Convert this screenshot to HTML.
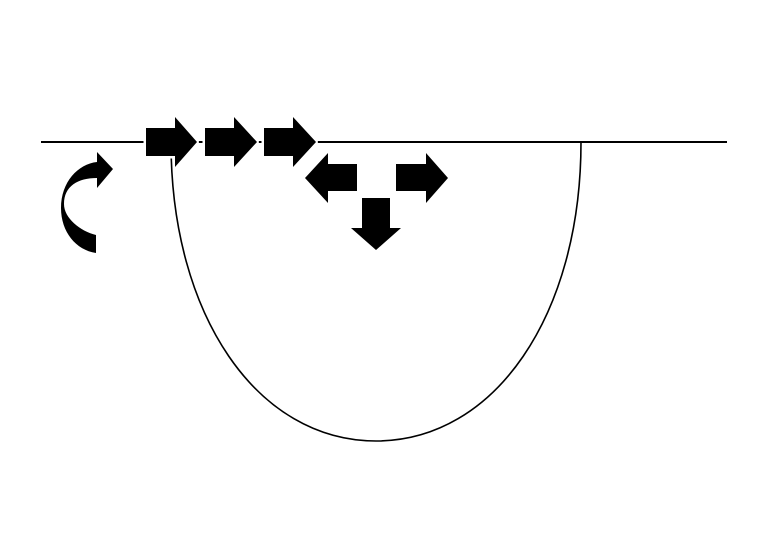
<!DOCTYPE html>
<html>
<head>
<meta charset="utf-8">
<style>
html,body{margin:0;padding:0;background:#fff;width:768px;height:544px;overflow:hidden}
svg{display:block}
</style>
</head>
<body>
<svg width="768" height="544" viewBox="0 0 768 544" xmlns="http://www.w3.org/2000/svg">
<rect width="768" height="544" fill="#fff"/>
<line x1="41" y1="142" x2="727" y2="142" stroke="#000" stroke-width="2"/>
<path d="M171 142 C171 315 257 441 376 441 C495 441 581 315 581 142" fill="none" stroke="#000" stroke-width="1.6"/>
<g fill="#000" stroke="#fff" stroke-width="5" paint-order="stroke" stroke-linejoin="bevel">
<polygon points="146,128 175,128 175,117 197,142 175,167 175,156 146,156"/>
<polygon points="205,128 234,128 234,117 257,142 234,167 234,156 205,156"/>
<polygon points="264,128 293,128 293,117 316,142 293,167 293,156 264,156"/>
<polygon points="357,164 328,164 328,153 305,178 328,203 328,191 357,191"/>
<polygon points="396,164 426,164 426,153 448,178 426,203 426,191 396,191"/>
<polygon points="362,198 390,198 390,228 401,228 376,250 351,228 362,228"/>
</g>
<path d="M97 152 L113 169 L97 188 L97 178 C78 178 64 186 64 204 C64 218 80 231 96 235 L96 253 C76 250 61 232 61 208 C61 182 78 164 97 162 Z" fill="#000"/>
</svg>
</body>
</html>
